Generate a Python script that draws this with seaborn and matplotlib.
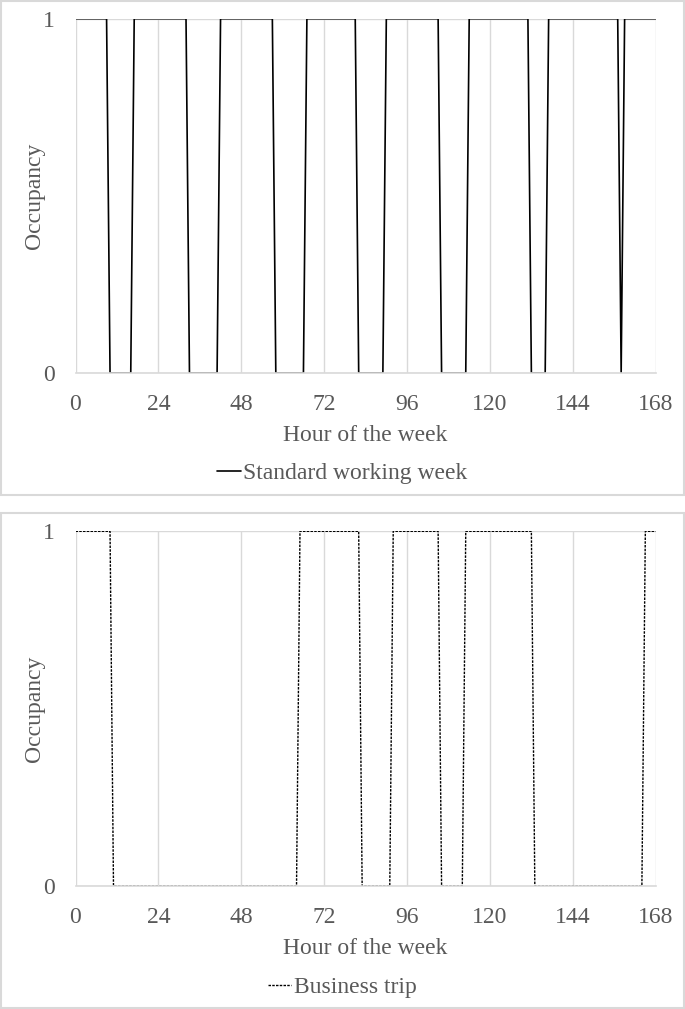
import matplotlib
matplotlib.use("Agg")
import matplotlib.pyplot as plt
from matplotlib.patches import Rectangle
import seaborn as sns
import pandas as pd

# Corner points of each occupancy profile (hour, occupancy)
standard_hours = [0, 9, 10, 16, 17, 32, 33, 41, 42, 57, 58, 66, 67, 81, 82, 89, 90,
                  105, 106, 113, 114, 131, 132, 136, 137, 157, 158, 159, 168]
standard_occ = [1, 1, 0, 0, 1, 1, 0, 0, 1, 1, 0, 0, 1, 1, 0, 0, 1,
                1, 0, 0, 1, 1, 0, 0, 1, 1, 0, 1, 1]

trip_hours = [0, 10, 11, 64, 65, 82, 83, 91, 92, 105, 106, 112, 113, 132, 133, 164, 165, 168]
trip_occ = [1, 1, 0, 0, 1, 1, 0, 0, 1, 1, 0, 0, 1, 1, 0, 0, 1, 1]

x_ticks = [0, 24, 48, 72, 96, 120, 144, 168]
y_ticks = [0, 1]
series_names = ["Standard working week", "Business trip"]

sns.set_theme(style="white")
plt.rcParams["font.family"] = ["Liberation Serif", "DejaVu Serif"]

text_col = "#595959"
grid_col = "#d9d9d9"
fs = 17

W, H = 685, 1009
fig = plt.figure(figsize=(W / 100, H / 100), dpi=100)


def px(x0, y_top, x1, y_bot):
    return [x0 / W, 1 - y_bot / H, (x1 - x0) / W, (y_bot - y_top) / H]


# panel frames
for top, bot in [(1, 495), (513, 1008)]:
    fig.add_artist(Rectangle((1 / W, 1 - bot / H), (W - 2) / W, (bot - top) / H,
                             transform=fig.transFigure, fill=False,
                             edgecolor=grid_col, linewidth=1.5))

panels = [
    (px(75.5, 18.7, 655.7, 373), standard_hours, standard_occ, "-", series_names[0], 473),
    (px(75.5, 531.3, 655.7, 886), trip_hours, trip_occ, (0, (1.8, 0.9)), series_names[1], 987),
]

for rect, hrs, occ, ls, name, leg_y in panels:
    ax = fig.add_axes(rect)
    df = pd.DataFrame({"hour": hrs, "occupancy": occ})
    sns.lineplot(data=df, x="hour", y="occupancy", ax=ax, color="black",
                 linewidth=1.2 if ls == "-" else 1.0, linestyle=ls,
                 estimator=None, sort=False, label=name)
    ax.set_xlim(0, 168)
    ax.set_ylim(0, 1)
    ax.set_xticks(x_ticks)
    ax.set_yticks(y_ticks)
    ax.grid(True, color=grid_col, linewidth=1)
    for s in ["top", "right", "left"]:
        ax.spines[s].set_visible(False)
    ax.spines["bottom"].set_color(grid_col)
    ax.spines["bottom"].set_linewidth(1.2)
    ax.tick_params(axis="both", length=0, labelsize=fs, colors=text_col)
    ax.tick_params(axis="x", pad=15)
    ax.tick_params(axis="y", pad=15)
    ax.set_xlabel("Hour of the week", fontsize=fs, color=text_col, labelpad=7)
    ax.set_ylabel("Occupancy", fontsize=fs, color=text_col)
    ax.yaxis.set_label_coords(-0.052, 0.5)
    ax.set_axisbelow(True)
    ax.legend(loc="center", bbox_to_anchor=(342 / W, 1 - leg_y / H),
              bbox_transform=fig.transFigure, frameon=False,
              fontsize=fs, handlelength=1.0, handletextpad=0.1,
              labelcolor=text_col)

fig.savefig("out.png", dpi=100)
